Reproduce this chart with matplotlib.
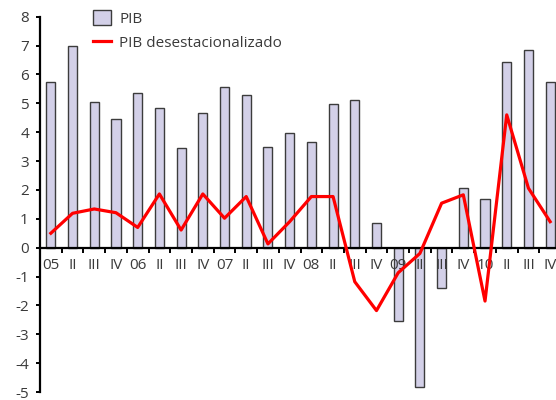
import matplotlib
matplotlib.use("Agg")
import matplotlib.pyplot as plt
from matplotlib.ticker import FixedLocator, FixedFormatter

plt.rcParams["font.family"] = ["Open Sans", "DejaVu Sans"]
plt.rcParams["axes.unicode_minus"] = False

quarters = ["05", "II", "III", "IV", "06", "II", "III", "IV",
            "07", "II", "III", "IV", "08", "II", "III", "IV",
            "09", "II", "III", "IV", "10", "II", "III", "IV"]

pib = [5.75, 7.0, 5.03, 4.45, 5.35, 4.83, 3.46, 4.66,
       5.56, 5.29, 3.49, 3.98, 3.65, 4.99, 5.13, 0.87,
       -2.55, -4.81, -1.41, 2.08, 1.68, 6.43, 6.85, 5.75]

pib_desest = [0.50, 1.19, 1.34, 1.21, 0.70, 1.86, 0.61, 1.86,
              1.02, 1.77, 0.13, 0.90, 1.77, 1.77, -1.18, -2.18,
              -0.87, -0.20, 1.54, 1.83, -1.85, 4.60, 2.06, 0.90]

yticks = list(range(-5, 9))

text_color = "#3a3a3a"
bar_fill = "#d3d0e8"
bar_edge = "#3c3c3c"
line_red = "#ff0000"

fig = plt.figure(figsize=(5.56, 4.0), dpi=100)
ax = fig.add_axes([40 / 556, 8 / 400, 521 / 556, 375.3 / 400])

x = list(range(len(quarters)))
bars = ax.bar(x, pib, width=0.42, color=bar_fill, edgecolor=bar_edge,
              linewidth=1.0, label="PIB", zorder=1)
line, = ax.plot(x, pib_desest, color=line_red, linewidth=2.3,
                label="PIB desestacionalizado", zorder=3)

ax.set_xlim(-0.5, len(quarters) - 0.5)
ax.set_ylim(-5, 8)

for s in ("top", "right"):
    ax.spines[s].set_visible(False)
ax.spines["bottom"].set_position(("data", 0))
ax.spines["bottom"].set_linewidth(1.6)
ax.spines["left"].set_linewidth(1.6)

ax.set_yticks(yticks)
ax.set_yticklabels([str(v) for v in yticks])
ax.tick_params(axis="y", direction="out", length=3, width=1.4,
               pad=5, labelsize=11, labelcolor=text_color, color="black")

# boundary ticks between quarters, labels centred on each quarter
ax.xaxis.set_major_locator(FixedLocator([i + 0.5 for i in x]))
ax.xaxis.set_major_formatter(FixedFormatter([""] * len(x)))
ax.xaxis.set_minor_locator(FixedLocator(x))
ax.xaxis.set_minor_formatter(FixedFormatter(quarters))
ax.tick_params(axis="x", which="major", direction="out", length=3.5,
               width=1.4, color="black")
ax.tick_params(axis="x", which="minor", length=0, pad=7.5,
               labelsize=11, labelcolor=text_color)

leg = ax.legend(handles=[bars, line], loc="upper left",
                bbox_to_anchor=(88 / 556, 1.0 - 5 / 400),
                bbox_transform=fig.transFigure, frameon=False,
                fontsize=11, handlelength=1.15, handleheight=1.1,
                handletextpad=0.55, labelspacing=0.5, borderaxespad=0,
                borderpad=0.35)
for t in leg.get_texts():
    t.set_color(text_color)

fig.savefig("out.png", dpi=100)
